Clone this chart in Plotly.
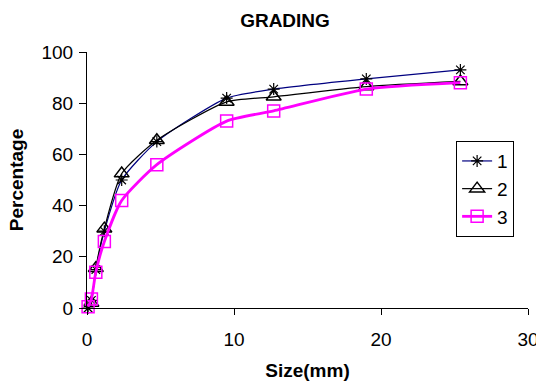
import plotly.graph_objects as go

sizes = [0.075, 0.3, 0.6, 1.18, 2.36, 4.75, 9.5, 12.7, 19, 25.4]
grading_1 = [0, 3, 15, 30, 50, 65, 82, 85.5, 89.5, 93]
grading_2 = [-1, 2, 15.5, 31, 52.5, 65.5, 80.5, 82.5, 86.5, 88.5]
grading_3 = [0.5, 3.5, 14, 26, 42, 56, 73, 77, 85.5, 88]
x_ticks = [0, 10, 20, 30]
y_ticks = [0, 20, 40, 60, 80, 100]

FONT = "Arial, Liberation Sans, sans-serif"

fig = go.Figure()
fig.add_trace(go.Scatter(
    x=sizes, y=grading_1, name="1", mode="lines+markers",
    line=dict(color="#000080", width=1.2, shape="spline", smoothing=0.6),
    marker=dict(symbol="asterisk-open", size=10, color="black",
                line=dict(color="black", width=1.2)),
    cliponaxis=False,
))
fig.add_trace(go.Scatter(
    x=sizes, y=grading_2, name="2", mode="lines+markers",
    line=dict(color="black", width=1.2, shape="spline", smoothing=0.6),
    marker=dict(symbol="triangle-up-open", size=13, color="black",
                line=dict(color="black", width=1.5)),
    cliponaxis=False,
))
fig.add_trace(go.Scatter(
    x=sizes, y=grading_3, name="3", mode="lines+markers",
    line=dict(color="#FF00FF", width=2.8, shape="spline", smoothing=0.6),
    marker=dict(symbol="square-open", size=12, color="#FF00FF",
                line=dict(color="#FF00FF", width=1.5)),
    cliponaxis=False,
))

fig.update_layout(
    width=536, height=381,
    margin=dict(l=87, r=8, t=52, b=73, autoexpand=False),
    paper_bgcolor="white", plot_bgcolor="white",
    font=dict(family=FONT, size=19, color="black"),
    title=dict(text="<b>GRADING</b>", x=285/536, xref="container", xanchor="center",
               y=1-20/381, yref="container", yanchor="middle",
               font=dict(family=FONT, size=19, color="black")),
    showlegend=True,
    legend=dict(x=0.837, y=0.652, xanchor="left", yanchor="top",
                bordercolor="black", borderwidth=1, bgcolor="white",
                font=dict(family=FONT, size=19, color="black"),
                tracegroupgap=0, itemwidth=30),
)
fig.update_xaxes(
    range=[0, 30], tickvals=x_ticks, ticktext=[str(v) for v in x_ticks],
    showgrid=False, zeroline=False, showline=True, linecolor="black", linewidth=1,
    ticks="outside", ticklen=6, tickcolor="black", automargin=False,
    ticklabelstandoff=8, ticklabeloverflow="allow",
    title=dict(text="<b>Size(mm)</b>", standoff=16,
               font=dict(family=FONT, size=19, color="black")),
    tickfont=dict(family=FONT, size=19, color="black"),
)
fig.update_yaxes(
    range=[0, 100], tickvals=y_ticks, ticktext=[str(v) for v in y_ticks],
    showgrid=False, zeroline=False, showline=True, linecolor="black", linewidth=1,
    ticks="outside", ticklen=7, tickcolor="black", automargin=False,
    ticklabelstandoff=2,
    title=dict(text="<b>Percentage</b>", standoff=12,
               font=dict(family=FONT, size=19, color="black")),
    tickfont=dict(family=FONT, size=19, color="black"),
)

fig.write_html("out.html")
